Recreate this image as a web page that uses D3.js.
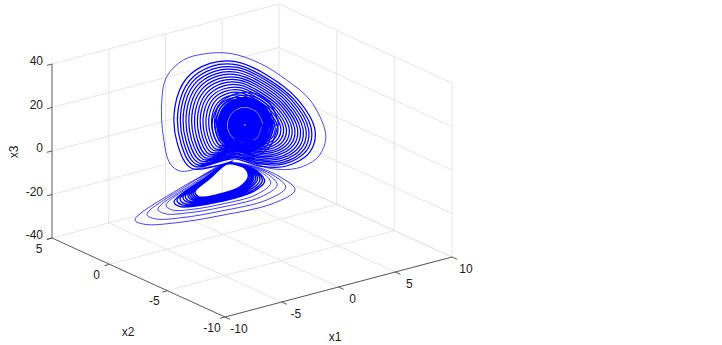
<!DOCTYPE html>
<html><head><meta charset="utf-8">
<script src="https://cdn.jsdelivr.net/npm/d3@7/dist/d3.min.js"></script>
<style>html,body{margin:0;padding:0;background:#fff}svg{display:block}</style>
</head><body><svg id="c" width="722" height="345"></svg>
<script>
const x1Ticks=[-10,-5,0,5,10], x2Ticks=[-10,-5,0,5], x3Ticks=[-40,-20,0,20,40];
const x2Plane=0; // depth cannot be read from one projection
const outerX1=[.31,-2.04,-3.81,-4.69,-5.27,-5.42,-4.98,-3.51,-1.75,.6,3.24,5.59,7.65,8.97,8.97,8.24,6.47,4.12,2.07];
const outerX3=[-8.1,-6.86,-5.64,-.9,12.16,27.69,39.34,44.98,45.31,42.38,34.14,23.23,11.2,-4.42,-10.55,-16.44,-18.59,-15.35,-8.69];
const upperX1=[
.89,-2.78,-4.04,-4.25,-3.22,-1.16,1.19,3.83,6.48,8.09,7.65,5.59,3.24,
.94,-2.55,-3.74,-3.94,-2.96,-1.01,1.23,3.73,6.25,7.78,7.36,5.41,3.17,
.98,-2.36,-3.5,-3.69,-2.76,-.88,1.26,3.66,6.07,7.53,7.13,5.26,3.12,
1.02,-2.17,-3.27,-3.45,-2.55,-.76,1.28,3.58,5.89,7.29,6.91,5.11,3.07,
1.07,-1.98,-3.03,-3.2,-2.35,-.64,1.31,3.51,5.7,7.04,6.68,4.97,3.02,
1.11,-1.79,-2.79,-2.95,-2.14,-.51,1.34,3.43,5.52,6.79,6.45,4.82,2.96,
1.15,-1.61,-2.55,-2.71,-1.94,-.39,1.37,3.35,5.34,6.55,6.22,4.67,2.91,
1.19,-1.42,-2.31,-2.46,-1.73,-.27,1.4,3.28,5.16,6.3,5.99,4.53,2.86,
1.23,-1.23,-2.07,-2.21,-1.52,-.14,1.43,3.2,4.98,6.05,5.76,4.38,2.8,
1.27,-1.04,-1.83,-1.97,-1.32,-.02,1.46,3.12,4.79,5.81,5.53,4.23,2.75,
1.31,-.85,-1.6,-1.72,-1.11,.1,1.49,3.05,4.61,5.56,5.3,4.09,2.7,
1.35,-.67,-1.36,-1.47,-.91,.23,1.52,2.97,4.43,5.31,5.07,3.94,2.65,
1.39,-.48,-1.12,-1.23,-.7,.35,1.55,2.89,4.25,5.07,4.84,3.79,2.59,
1.44,-.29,-.88,-.98,-.5,.47,1.58,2.82,4.06,4.82,4.61,3.64,2.54,
1.48,-.1,-.64,-.73,-.29,.6,1.61,2.74,3.88,4.57,4.38,3.5,2.49,
1.51,.04,-.46,-.55,-.14,.69,1.63,2.68,3.74,4.39,4.21,3.39,2.45,
1.54,.18,-.29,-.36,.02,.78,1.65,2.63,3.61,4.2,4.04,3.28,2.41];
const upperX3=[
-7.4,-5.8,7.4,24.5,36.2,40.2,37.7,28,13.6,-3.2,-12.6,-16.3,-13.1,
-6.6,-5.1,7.4,23.7,34.7,38.6,36.2,26.9,13.3,-2.7,-11.6,-15.1,-12,
-6,-4.6,7.4,23,33.6,37.3,35,26.1,13.1,-2.2,-10.8,-14.2,-11.2,
-5.4,-4.1,7.4,22.3,32.5,36,33.8,25.3,12.8,-1.8,-9.9,-13.2,-10.4,
-4.8,-3.5,7.4,21.6,31.3,34.7,32.6,24.5,12.6,-1.4,-9.1,-12.2,-9.6,
-4.2,-3,7.4,21,30.2,33.4,31.4,23.7,12.3,-.9,-8.3,-11.3,-8.7,
-3.6,-2.5,7.5,20.3,29,32.1,30.2,22.9,12.1,-.5,-7.5,-10.3,-7.9,
-3,-1.9,7.5,19.6,27.9,30.8,29,22.1,11.9,-.1,-6.7,-9.4,-7.1,
-2.4,-1.4,7.5,18.9,26.7,29.5,27.8,21.2,11.6,.4,-5.9,-8.4,-6.2,
-1.8,-.9,7.5,18.3,25.6,28.2,26.6,20.4,11.4,.8,-5.1,-7.5,-5.4,
-1.2,-.3,7.5,17.6,24.5,26.8,25.4,19.6,11.1,1.2,-4.3,-6.5,-4.6,
-.6,.2,7.5,16.9,23.3,25.5,24.2,18.8,10.9,1.7,-3.5,-5.6,-3.8,
0,.8,7.5,16.2,22.2,24.2,23,18,10.7,2.1,-2.7,-4.6,-2.9,
.6,1.3,7.5,15.6,21,22.9,21.8,17.2,10.4,2.5,-1.9,-3.6,-2.1,
1.2,1.8,7.5,14.9,19.9,21.6,20.5,16.4,10.2,3,-1.1,-2.7,-1.3,
1.6,2.2,7.5,14.4,19,20.6,19.6,15.7,10,3.3,-.5,-2,-.7,
2.1,2.6,7.5,13.9,18.2,19.7,18.7,15.1,9.8,3.6,.1,-1.2,0];
const midX1=[
4.83,3.98,1.92,-.14,-.99,-.14,1.92,3.98,4.83,
4.56,3.79,1.92,.05,-.72,.05,1.92,3.79,4.56];
const midX3=[
3.59,-5.96,-7.58,-.29,11.61,21.16,22.78,15.49,3.59,
3.96,-4.73,-6.2,.43,11.25,19.93,21.4,14.77,3.96];
const coreX1=[
4.3,3.6,1.92,.24,-.46,.24,1.92,3.6,4.3,
4.12,3.48,1.92,.36,-.28,.36,1.92,3.48,4.12,
3.95,3.35,1.92,.49,-.11,.49,1.92,3.35,3.95,
3.77,3.23,1.92,.61,.07,.61,1.92,3.23,3.77,
3.59,3.1,1.92,.74,.25,.74,1.92,3.1,3.59,
3.33,2.92,1.92,.92,.51,.92,1.92,2.92,3.33,
3.15,2.79,1.92,1.05,.69,1.05,1.92,2.79,3.15,
2.98,2.67,1.92,1.17,.86,1.17,1.92,2.67,2.98,
2.8,2.54,1.92,1.3,1.04,1.3,1.92,2.54,2.8,
2.62,2.42,1.92,1.42,1.22,1.42,1.92,2.42,2.62,
2.45,2.29,1.92,1.55,1.39,1.55,1.92,2.29,2.45,
2.27,2.17,1.92,1.67,1.57,1.67,1.92,2.17,2.27,
2.1,2.04,1.92,1.8,1.74,1.8,1.92,2.04,2.1];
const coreX3=[
4.32,-3.5,-4.82,1.15,10.88,18.7,20.02,14.05,4.32,
4.56,-2.68,-3.9,1.63,10.64,17.88,19.1,13.58,4.56,
4.81,-1.85,-2.98,2.1,10.39,17.05,18.18,13.1,4.81,
5.05,-1.03,-2.06,2.58,10.15,16.23,17.26,12.62,5.05,
5.29,-.21,-1.14,3.06,9.91,15.41,16.34,12.14,5.29,
5.66,1.02,.24,3.78,9.54,14.18,14.96,11.42,5.66,
5.9,1.85,1.16,4.25,9.3,13.35,14.04,10.95,5.9,
6.14,2.67,2.08,4.73,9.06,12.53,13.12,10.47,6.14,
6.39,3.49,3,5.21,8.82,11.71,12.2,9.99,6.39,
6.63,4.31,3.92,5.69,8.57,10.89,11.28,9.51,6.63,
6.87,5.13,4.84,6.17,8.33,10.07,10.36,9.03,6.87,
7.11,5.96,5.76,6.64,8.09,9.24,9.44,8.56,7.11,
7.36,6.78,6.68,7.12,7.84,8.42,8.52,8.08,7.36];
const lowerOuterX1=[
.31,-3.81,-7.77,-6.89,-4.1,-.28,4.42,6.33,5,2.65,
.31,-3.28,-6.71,-5.95,-3.54,-.28,3.83,5.51,4.38,2.3,
.31,-2.8,-5.76,-5.1,-3.04,-.28,3.3,4.76,3.83,1.98,
.31,-2.43,-5.02,-4.45,-2.65,-.28,2.89,4.19,3.4,1.73];
const lowerOuterX3=[
-7.8,-13.62,-22.71,-25.91,-29,-31.04,-31.85,-28.36,-20.4,-12.26,
-7.9,-13.4,-21.6,-24.7,-27.4,-29,-29.5,-26,-18.8,-11.6,
-7.9,-13.3,-20.5,-23.5,-25.9,-27.3,-27.4,-23.9,-17.3,-11,
-8,-13.1,-19.7,-22.7,-24.8,-25.9,-25.8,-22.2,-16.2,-10.5];
const lowerX1=[
.31,-2.09,-4.33,-3.84,-2.29,-.28,2.51,3.65,3,1.51,
.31,-1.96,-4.07,-3.6,-2.15,-.28,2.36,3.45,2.84,1.42,
.31,-1.82,-3.8,-3.37,-2.01,-.28,2.22,3.24,2.69,1.33,
.31,-1.69,-3.54,-3.13,-1.87,-.28,2.07,3.03,2.54,1.24,
.31,-1.58,-3.33,-2.94,-1.76,-.28,1.95,2.87,2.41,1.17,
.31,-1.48,-3.11,-2.75,-1.64,-.28,1.83,2.7,2.29,1.1,
.31,-1.4,-2.96,-2.61,-1.56,-.28,1.74,2.58,2.2,1.05,
.31,-1.32,-2.8,-2.47,-1.48,-.28,1.66,2.46,2.1,1,
.31,-1.24,-2.64,-2.33,-1.39,-.28,1.57,2.33,2.01,.94,
.31,-1.16,-2.48,-2.19,-1.31,-.28,1.48,2.21,1.92,.89];
const lowerX3=[
-8,-13,-19,-21.9,-23.7,-24.6,-24.2,-20.7,-15.1,-10.1,
-8,-12.9,-18.7,-21.5,-23.3,-24.1,-23.7,-20.1,-14.7,-9.9,
-8,-12.9,-18.4,-21.2,-22.9,-23.6,-23.1,-19.5,-14.3,-9.7,
-8,-12.9,-18.1,-20.9,-22.5,-23.1,-22.5,-18.9,-13.9,-9.6,
-8.1,-12.8,-17.9,-20.7,-22.2,-22.7,-22,-18.5,-13.6,-9.4,
-8.1,-12.8,-17.7,-20.4,-21.9,-22.3,-21.5,-18,-13.3,-9.3,
-8.1,-12.7,-17.5,-20.2,-21.6,-22,-21.2,-17.6,-13,-9.2,
-8.1,-12.7,-17.3,-20,-21.4,-21.7,-20.8,-17.3,-12.8,-9.1,
-8.1,-12.7,-17.1,-19.9,-21.1,-21.4,-20.5,-16.9,-12.6,-9,
-8.1,-12.66,-16.97,-19.67,-20.89,-21.08,-20.14,-16.56,-12.32,-8.91];

const x1ToX=d3.scaleLinear().domain([-10,10]).range([0,227]);
const x1ToY=d3.scaleLinear().domain([-10,10]).range([0,-60]);
const x2ToX=d3.scaleLinear().domain([-10,5]).range([225,52]);
const x2ToY=d3.scaleLinear().domain([-10,5]).range([317,238]);
const x3ToY=d3.scaleLinear().domain([-40,40]).range([0,-174]);
const P=(a,b,c)=>[x1ToX(a)+x2ToX(b),x1ToY(a)+x2ToY(b)+x3ToY(c)];

const svg=d3.select('#c');
svg.append('rect').attr('width',722).attr('height',345).attr('fill','#fff');
const seg=(a,b,col,w)=>svg.append('line').attr('x1',a[0]).attr('y1',a[1]).attr('x2',b[0]).attr('y2',b[1]).attr('stroke',col).attr('stroke-width',w);
const GRID='#e2e2e2', AX='#5a5a5a';
x3Ticks.forEach(z=>{seg(P(-10,5,z),P(10,5,z),GRID,.9);seg(P(10,5,z),P(10,-10,z),GRID,.9);});
x1Ticks.slice(1).forEach(a=>{seg(P(a,5,-40),P(a,5,40),GRID,.9);seg(P(a,-10,-40),P(a,5,-40),GRID,.9);});
x2Ticks.slice(0,3).forEach(b=>{seg(P(10,b,-40),P(10,b,40),GRID,.9);seg(P(-10,b,-40),P(10,b,-40),GRID,.9);});

const line=d3.line().x(d=>d[0]).y(d=>d[1]).curve(d3.curveCatmullRom.alpha(.5));
const trace=(xs,zs,w,o)=>svg.append('path').attr('d',line(xs.map((v,i)=>P(v,x2Plane,zs[i])))).attr('fill','none').attr('stroke','#0000ff').attr('stroke-width',w).attr('stroke-opacity',o);
trace(outerX1,outerX3,.8,.9);
trace(upperX1,upperX3,1.25,1);
trace(midX1,midX3,1.25,1);
trace(coreX1,coreX3,2.5,1);
trace(lowerOuterX1,lowerOuterX3,.8,.95);
trace(lowerX1,lowerX3,1.35,1);

seg(P(-10,5,-40),P(-10,5,40),AX,1);
seg(P(-10,-10,-40),P(-10,5,-40),AX,1);
seg(P(-10,-10,-40),P(10,-10,-40),AX,1);
const txt=(x,y,s,anc)=>svg.append('text').attr('x',x).attr('y',y).attr('text-anchor',anc||'middle').attr('dominant-baseline','central').attr('font-family','"Liberation Sans",Arial,sans-serif').attr('font-size',12).attr('fill','#1c1c1c').text(s);
x3Ticks.forEach(z=>{const p=P(-10,5,z);seg(p,P(-10.45,5,z),AX,1);txt(p[0]-9,p[1]-3,z,'end');});
x2Ticks.forEach(b=>{const p=P(-10,b,-40);seg(p,P(-10.45,b,-40),AX,1);txt(p[0]-13,p[1]+(b===-10?11:10.5),b);});
x1Ticks.forEach(a=>{const p=P(a,-10,-40);seg(p,P(a,-10.45,-40),AX,1);txt(p[0]+14,p[1]+11.5,a);});
txt(335,337,'x1');
txt(128,332,'x2');
svg.append('text').attr('transform','translate(14,152) rotate(-90)').attr('text-anchor','middle').attr('dominant-baseline','central').attr('font-family','"Liberation Sans",Arial,sans-serif').attr('font-size',12).attr('fill','#1c1c1c').text('x3');
</script></body></html>
